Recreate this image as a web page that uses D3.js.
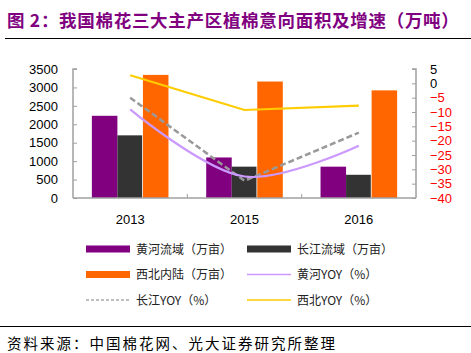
<!DOCTYPE html>
<html>
<head>
<meta charset="utf-8">
<script src="https://cdn.jsdelivr.net/npm/d3@7"></script>
<style>
	body { margin: 0; background: #fff; }
	svg { display: block; }
	text { font-family: Arial, "Liberation Sans", sans-serif; }
	.cjk { font-family: "Noto Sans CJK SC", sans-serif; }
</style>
</head>
<body>
<div id="chart"></div>
<script>
// data
const years = ["2013", "2015", "2016"];
const barSeries = ["黄河流域（万亩）", "长江流域（万亩）", "西北内陆（万亩）"];
const huanghe = [2230, 1100, 850];
const changjiang = [1700, 850, 630];
const xibei = [3340, 3160, 2920];
const huangheYoy = [-9.1, -32.5, -21.8];
const changjiangYoy = [-5.0, -34.0, -17.2];
const xibeiYoy = [2.8, -9.3, -7.8];
const leftTicks = [0, 500, 1000, 1500, 2000, 2500, 3000, 3500];
const rightTicks = [5, 0, -5, -10, -15, -20, -25, -30, -35, -40];

const width = 471, height = 353;
const plot = {left: 73, right: 416, top: 69, bottom: 198};

let svg = d3.select("#chart").append("svg")
	.attr("width", width)
	.attr("height", height);

// title + rules
svg.append("text")
	.attr("class", "cjk")
	.attr("x", 7)
	.attr("y", 27)
	.attr("fill", "#800080")
	.attr("font-size", 17.5)
	.attr("font-weight", "bold")
	.attr("letter-spacing", 0.7)
	.text("图 2：我国棉花三大主产区植棉意向面积及增速（万吨）");

svg.append("line")
	.attr("x1", 5).attr("x2", width)
	.attr("y1", 38.5).attr("y2", 38.5)
	.attr("stroke", "#000").attr("stroke-width", 1.2);

svg.append("line")
	.attr("x1", 0).attr("x2", width)
	.attr("y1", 326.5).attr("y2", 326.5)
	.attr("stroke", "#000").attr("stroke-width", 1.2);

svg.append("text")
	.attr("class", "cjk")
	.attr("x", 7)
	.attr("y", 349)
	.attr("fill", "#000")
	.attr("font-size", 14.5)
	.attr("letter-spacing", 2)
	.text("资料来源：中国棉花网、光大证券研究所整理");

// scales
let x0 = d3.scaleBand().domain(years).range([plot.left, plot.right]);
let bw = x0.bandwidth();
let x1 = d3.scaleBand().domain(d3.range(3)).range([bw * 0.165, bw * 0.835]);
let yL = d3.scaleLinear().domain([0, 3500]).range([plot.bottom, plot.top]);
let yR = d3.scaleLinear().domain([-40, 5]).range([plot.bottom, plot.top]);

const axisColor = "#a0a0a0";

// bars
const barColors = ["#800080", "#333333", "#ff6600"];
const barData = [huanghe, changjiang, xibei];

barData.forEach((vals, si) => {
	svg.append("g")
		.selectAll("rect")
		.data(vals)
		.join("rect")
			.attr("x", (d, i) => x0(years[i]) + x1(si))
			.attr("width", x1.bandwidth() - (si === 1 ? 0.8 : 0))
			.attr("y", d => yL(d))
			.attr("height", d => yL(0) - yL(d))
			.attr("fill", barColors[si]);
});

// left axis
let left = svg.append("g")
	.attr("transform", `translate(${plot.left},0)`)
	.call(d3.axisRight(yL).tickValues(leftTicks).tickSize(4).tickFormat(d3.format("d")));
left.select(".domain").attr("stroke", axisColor).attr("stroke-width", 1.5).attr("d", `M4,${plot.top}H0V${plot.bottom}`);
left.selectAll(".tick line").attr("stroke", axisColor);
left.selectAll(".tick text")
	.attr("x", -15)
	.attr("text-anchor", "end")
	.attr("font-size", 13)
	.attr("fill", "#000")
	.attr("font-family", "Arial, 'Liberation Sans', sans-serif");

// right axis
let right = svg.append("g")
	.attr("transform", `translate(${plot.right},0)`)
	.call(d3.axisLeft(yR).tickValues(rightTicks).tickSize(4));
right.select(".domain").attr("stroke", axisColor).attr("stroke-width", 1.5).attr("d", `M-4,${plot.top}H0V${plot.bottom}`);
right.selectAll(".tick line").attr("stroke", axisColor);
right.selectAll(".tick text")
	.attr("x", 14)
	.attr("text-anchor", "start")
	.attr("font-size", 13)
	.attr("fill", d => d < 0 ? "#ff0000" : "#000")
	.attr("font-family", "Arial, 'Liberation Sans', sans-serif");

// bottom axis
let bottom = svg.append("g").attr("transform", `translate(0,${plot.bottom})`);
bottom.append("line")
	.attr("x1", plot.left).attr("x2", plot.right)
	.attr("stroke", axisColor).attr("stroke-width", 1.5);
bottom.selectAll(".sep")
	.data(years.slice(1))
	.join("line")
		.attr("x1", d => x0(d)).attr("x2", d => x0(d))
		.attr("y1", 0).attr("y2", -4)
		.attr("stroke", axisColor);
bottom.selectAll(".yr")
	.data(years)
	.join("text")
		.attr("x", d => x0(d) + bw / 2)
		.attr("y", 26)
		.attr("text-anchor", "middle")
		.attr("font-size", 13)
		.attr("fill", "#000")
		.text(d => d);

// lines
let cx = i => x0(years[i]) + bw / 2;

svg.append("path")
	.datum(xibeiYoy)
	.attr("fill", "none")
	.attr("stroke", "#ffcc00")
	.attr("stroke-width", 2.2)
	.attr("d", d3.line().x((d, i) => cx(i)).y(d => yR(d)));

svg.append("path")
	.datum(changjiangYoy)
	.attr("fill", "none")
	.attr("stroke", "#999999")
	.attr("stroke-width", 2.5)
	.attr("stroke-dasharray", "6,3")
	.attr("d", d3.line().x((d, i) => cx(i)).y(d => yR(d)));

svg.append("path")
	.datum(huangheYoy)
	.attr("fill", "none")
	.attr("stroke", "#cc99ff")
	.attr("stroke-width", 2.2)
	.attr("d", d3.line().curve(d3.curveCatmullRom.alpha(0.5)).x((d, i) => cx(i)).y(d => yR(d)));

// legend
const legendItems = [
	{name: barSeries[0], type: "bar", color: "#800080"},
	{name: barSeries[1], type: "bar", color: "#333333"},
	{name: barSeries[2], type: "bar", color: "#ff6600"},
	{name: "黄河YOY（%）", type: "line", color: "#cc99ff"},
	{name: "长江YOY（%）", type: "dash", color: "#aaaaaa"},
	{name: "西北YOY（%）", type: "line", color: "#ffcc00"},
];

let legend = svg.append("g");
legendItems.forEach((item, i) => {
	let g = legend.append("g")
		.attr("transform", `translate(${i % 2 ? 247 : 86},${249 + Math.floor(i / 2) * 25.5})`);
	if (item.type === "bar") {
		g.append("rect").attr("x", 0).attr("y", -3.5).attr("width", 44).attr("height", 7).attr("fill", item.color);
	} else {
		g.append("line")
			.attr("x1", 0).attr("x2", 44)
			.attr("stroke", item.color)
			.attr("stroke-width", 1.5)
			.attr("stroke-dasharray", item.type === "dash" ? "3,2" : null);
	}
	g.append("text")
		.attr("class", "cjk")
		.attr("x", 50)
		.attr("y", 4.5)
		.attr("font-size", 12)
		.attr("fill", "#222")
		.text(item.name);
});
</script>
</body>
</html>
